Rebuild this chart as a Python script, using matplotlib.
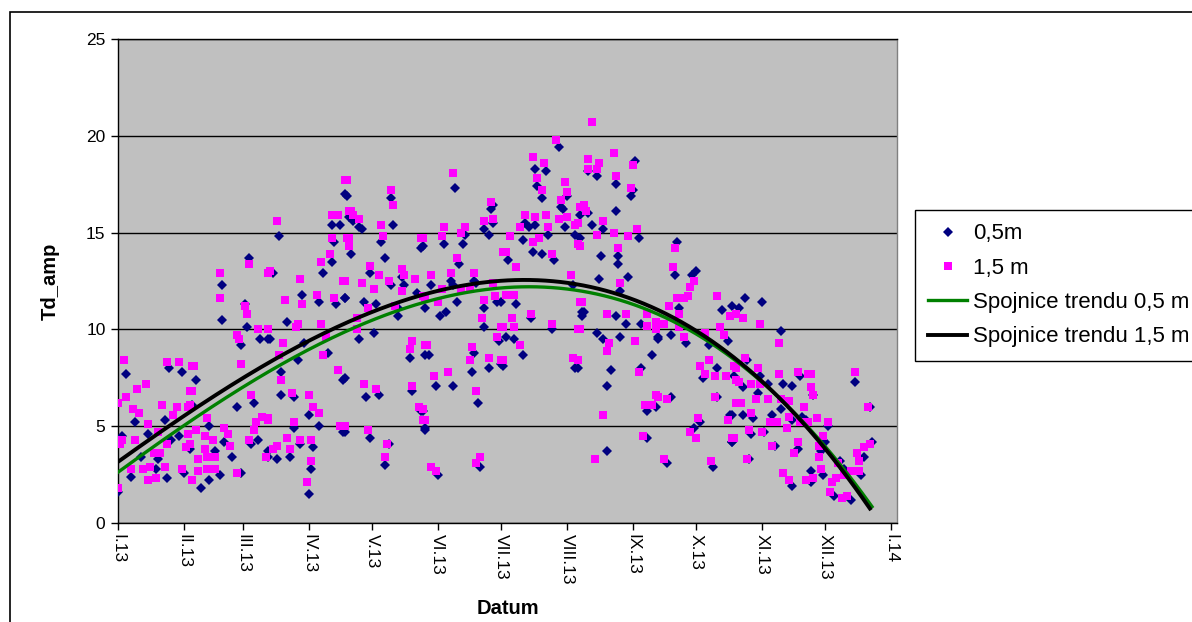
import numpy as np
import matplotlib
matplotlib.use("Agg")
import matplotlib.pyplot as plt
from matplotlib.patches import Rectangle

plt.rcParams['font.family'] = ['Liberation Sans', 'DejaVu Sans']

# Day of year (0 = 1.1.2013) and daily temperature amplitude, depth 0,5 m
days_05 = [4, 24, 30, 8, 22, 14, 25, 29, 19, 6, 23, 18, 0, 31, 11, 2,
           62, 49, 49, 60, 61, 58, 67, 71, 37, 56, 64, 35, 43, 50, 54, 46, 63, 66, 71, 43, 48, 39, 58, 34,
           107, 76, 102, 105, 101, 97, 73, 87, 95, 107, 103, 80, 72, 88, 85, 99, 77, 77, 83, 106, 90, 95,
           106, 83, 86, 92, 81, 75, 71, 91, 90,
           108, 130, 115, 110, 143, 126, 129, 135, 107, 116, 122, 141, 132, 114, 121, 138, 145, 117, 123,
           139, 107, 143, 145, 107, 119, 128, 126, 132,
           159, 177, 175, 177, 154, 163, 144, 161, 148, 158, 169, 152, 155, 160, 145, 173, 179, 173, 180,
           147, 168, 175, 167, 181, 150, 158, 170, 144, 145, 151, 171,
           208, 197, 202, 212, 210, 191, 194, 196, 200, 206, 216, 184, 211, 215, 188, 181, 219, 195, 205,
           187, 183, 191, 182, 216,
           244, 222, 243, 222, 235, 224, 218, 246, 228, 236, 241, 227, 237, 220, 235, 240, 247, 219, 226,
           229, 237, 252, 255, 247, 233, 217, 231, 250, 250, 231,
           264, 263, 273, 271, 265, 285, 290, 261, 255, 268, 279, 288, 283, 276, 291, 283, 289, 254, 261,
           275, 272, 290, 259, 281,
           296, 304, 293, 313, 297, 303, 314, 322, 318, 302, 295, 307, 309, 295, 290, 313, 300, 318, 323,
           325, 299, 305, 290, 321, 310, 298, 318, 327,
           348, 328, 355, 335, 334, 332, 356, 352, 341, 333, 351, 343, 338, 346, 327,
           # days sitting just under the 1,5 m squares
           129, 124, 111, 114, 119, 134, 101, 109, 176, 173, 164, 157, 168,
           198, 200, 209, 218, 192, 197, 203, 226, 235, 242, 229, 236]
td_05 = [7.7, 8.0, 7.8, 5.2, 5.3, 4.6, 4.3, 4.5, 3.3, 2.4, 2.3, 2.8, 1.6, 2.6, 3.4, 4.5,
         13.7, 12.3, 10.5, 11.3, 10.1, 9.2, 9.5, 9.5, 7.4, 6.0, 6.2, 6.1, 5.0, 4.2, 3.4, 3.7, 4.1, 4.3, 3.7,
         2.2, 2.5, 1.8, 2.6, 3.8,
         17.0, 14.8, 14.5, 15.4, 13.5, 12.9, 12.9, 11.8, 11.4, 11.6, 11.3, 10.4, 9.5, 9.3, 8.4, 8.8, 7.8,
         6.6, 6.5, 7.4, 5.6, 5.0, 4.7, 4.9, 4.1, 3.9, 3.4, 3.3, 3.4, 2.8, 1.5,
         16.9, 15.4, 15.2, 13.9, 14.2, 13.7, 12.3, 12.3, 11.6, 11.4, 11.3, 11.9, 10.7, 9.5, 9.8, 8.5, 8.7,
         6.5, 6.6, 6.8, 7.5, 5.8, 4.9, 4.7, 4.4, 4.1, 3.0, 11.1,
         17.3, 16.4, 14.9, 15.5, 14.4, 14.4, 14.3, 13.4, 12.3, 12.3, 12.4, 10.7, 10.9, 11.4, 11.1, 11.1,
         11.4, 10.1, 9.4, 8.7, 8.8, 8.0, 7.8, 8.2, 7.1, 7.1, 6.2, 5.8, 4.8, 2.5, 2.9,
         19.4, 18.3, 18.2, 16.9, 16.2, 14.6, 15.3, 14.0, 13.9, 13.6, 14.9, 13.6, 15.3, 12.3, 11.3, 11.4,
         10.9, 10.6, 10.0, 9.5, 9.6, 8.7, 8.1, 8.0,
         18.7, 18.2, 17.2, 16.0, 16.1, 15.4, 14.7, 14.7, 13.8, 13.4, 12.7, 12.6, 12.0, 10.9, 10.7, 10.3,
         10.3, 10.7, 9.8, 9.5, 9.6, 8.7, 9.5, 8.0, 7.9, 8.0, 7.1, 5.8, 4.4, 3.7,
         14.5, 12.8, 13.0, 12.8, 11.1, 11.0, 11.2, 9.7, 9.6, 9.3, 9.2, 9.4, 8.0, 7.5, 7.6, 6.5, 5.6, 6.0,
         6.5, 5.2, 4.9, 4.2, 3.1, 2.9,
         11.6, 11.4, 11.1, 9.9, 8.4, 7.6, 7.2, 7.6, 7.1, 6.7, 7.0, 7.2, 5.6, 5.6, 5.6, 5.9, 5.4, 5.3, 5.5,
         5.3, 4.6, 4.7, 4.2, 3.8, 4.0, 3.3, 1.9, 2.7,
         7.3, 6.6, 6.0, 5.0, 4.2, 3.7, 4.2, 3.4, 3.2, 2.5, 2.5, 2.8, 1.4, 1.2, 2.1,
         16.8, 14.5, 15.6, 15.3, 12.9, 12.7, 15.4, 15.8, 16.2, 15.2, 14.9, 12.5, 12.5,
         17.4, 16.8, 16.3, 15.9, 15.5, 15.4, 14.9, 17.9, 17.5, 16.9, 15.2, 13.8]

# Depth 1,5 m
days_15 = [3, 0, 9, 13, 4, 7, 10, 21, 23, 29, 35, 28, 26, 33, 34, 14, 19, 2, 1, 8, 17, 20, 23, 32, 33,
           6, 12, 15, 14, 18, 22, 30, 0, 35,
           48, 48, 62, 60, 61, 71, 56, 57, 66, 71, 36, 58, 35, 63, 34, 42, 50, 52, 53, 65, 68, 71, 64, 62,
           37, 41, 45, 41, 38, 42, 46, 42, 46, 38, 56, 70, 34,
           107, 75, 101, 104, 109, 101, 108, 100, 96, 109, 72, 86, 106, 79, 87, 94, 102, 71, 85, 84, 96,
           78, 76, 98, 97, 77, 104, 82, 90, 92, 95, 71, 83, 105, 80, 86, 91, 73, 75, 81, 91, 89,
           108, 129, 130, 110, 111, 114, 124, 125, 109, 109, 143, 119, 123, 134, 135, 140, 115, 128, 121,
           134, 107, 145, 118, 131, 113, 113, 139, 138, 145, 116, 122, 139, 142, 144, 107, 118, 127, 126,
           158, 176, 173, 177, 154, 153, 164, 162, 144, 160, 182, 148, 157, 168, 177, 153, 162, 166, 144,
           151, 173, 178, 172, 181, 179, 146, 167, 166, 175, 181, 149, 156, 169, 144, 145, 148, 150, 169, 171,
           207, 196, 201, 198, 211, 212, 200, 209, 218, 192, 197, 202, 208, 212, 216, 190, 203, 185, 199,
           196, 217, 183, 205, 188, 214, 183, 187, 218, 195, 205, 186, 182, 187, 217, 190, 182, 215,
           224, 222, 227, 222, 226, 234, 243, 235, 242, 220, 221, 217, 229, 226, 234, 241, 245, 218, 236,
           237, 219, 231, 240, 250, 254, 218, 250, 232, 231, 244, 246, 217, 254, 249, 252, 229, 248, 225,
           263, 262, 272, 270, 269, 264, 267, 260, 283, 289, 265, 256, 258, 284, 286, 265, 267, 254, 277,
           279, 275, 277, 282, 287, 291, 292, 282, 255, 259, 292, 274, 288, 270, 273, 290, 258, 280,
           292, 295, 303, 312, 296, 292, 302, 321, 326, 312, 293, 299, 303, 327, 301, 307, 313, 317, 324,
           294, 299, 317, 308, 311, 322, 326, 316, 298, 304, 291, 321, 309, 319, 297, 314, 317, 325,
           348, 327, 328, 354, 330, 335, 333, 331, 331, 355, 352, 349, 350, 332, 328, 340, 346, 350, 343,
           337, 336, 342, 344, 339]
td_15 = [8.4, 6.2, 6.9, 7.2, 6.5, 5.9, 5.7, 6.1, 8.3, 8.3, 8.1, 6.0, 5.6, 6.0, 6.8, 5.1, 4.7, 4.3, 4.1,
         4.3, 3.6, 3.6, 4.1, 3.9, 4.6, 2.8, 2.8, 2.9, 2.2, 2.3, 2.9, 2.8, 1.8, 2.2,
         12.9, 11.6, 13.4, 11.2, 10.8, 12.9, 9.7, 9.5, 10.0, 10.0, 8.1, 8.2, 6.8, 6.6, 6.1, 5.4, 4.9, 4.6,
         4.0, 5.2, 5.5, 5.4, 4.8, 4.3, 4.8, 4.5, 4.3, 3.8, 3.3, 3.4, 3.4, 2.8, 2.8, 2.7, 2.6, 3.4, 4.1,
         17.7, 15.6, 15.9, 15.9, 16.1, 14.7, 14.7, 13.9, 13.5, 14.3, 13.0, 12.6, 12.5, 11.5, 11.3, 11.8,
         11.6, 10.0, 10.3, 10.1, 10.3, 9.3, 8.7, 9.6, 8.7, 7.4, 7.9, 6.7, 6.6, 6.0, 5.7, 5.3, 5.2, 5.0,
         4.4, 4.3, 4.3, 3.8, 4.0, 3.8, 3.2, 2.1,
         17.7, 17.2, 16.4, 16.1, 15.9, 15.7, 15.4, 14.8, 14.7, 14.3, 14.7, 13.3, 12.8, 13.1, 12.8, 12.6,
         12.4, 12.5, 12.1, 12.0, 12.5, 11.6, 11.1, 11.2, 10.6, 10.0, 9.4, 9.0, 9.2, 7.2, 6.9, 7.1, 6.0,
         5.3, 5.0, 4.8, 4.1, 3.4,
         18.1, 16.6, 15.6, 15.7, 15.3, 14.8, 15.3, 15.0, 14.7, 13.7, 14.0, 12.8, 12.9, 12.9, 12.4, 12.1,
         12.1, 12.1, 11.7, 11.4, 11.5, 11.7, 10.6, 10.1, 9.6, 9.2, 9.1, 8.4, 8.5, 8.4, 7.6, 7.8, 6.8, 5.9,
         5.3, 2.9, 2.7, 3.1, 3.4,
         19.8, 18.9, 18.6, 17.8, 17.6, 17.1, 17.2, 16.7, 16.3, 15.9, 15.8, 15.9, 15.7, 15.8, 15.4, 15.3,
         15.3, 14.8, 14.7, 14.5, 14.4, 14.0, 13.9, 13.2, 12.8, 11.8, 11.8, 11.4, 10.8, 10.3, 10.6, 10.1,
         10.1, 10.0, 9.2, 8.4, 8.5,
         20.7, 18.8, 18.6, 18.3, 18.3, 19.1, 18.5, 17.9, 17.3, 16.4, 16.1, 15.5, 15.6, 14.9, 15.0, 14.8,
         15.2, 14.3, 14.2, 12.4, 11.4, 10.8, 10.8, 10.8, 10.4, 10.0, 10.2, 9.3, 8.9, 9.4, 7.8, 8.4, 6.6,
         6.1, 6.1, 5.6, 4.5, 3.3,
         14.2, 13.2, 12.5, 12.2, 11.7, 11.6, 11.6, 11.2, 11.7, 10.7, 10.8, 10.3, 10.3, 10.1, 9.7, 10.1,
         9.6, 10.0, 9.8, 8.4, 8.1, 7.7, 7.6, 7.6, 8.1, 7.4, 6.5, 6.5, 6.4, 6.2, 5.4, 5.3, 4.7, 4.4, 4.4,
         3.3, 3.2,
         10.8, 10.6, 10.3, 9.3, 8.5, 8.0, 8.0, 7.8, 7.7, 7.7, 7.3, 7.2, 7.2, 7.0, 6.4, 6.4, 6.4, 6.3, 6.0,
         6.2, 5.7, 5.5, 5.2, 5.2, 5.2, 5.2, 4.9, 4.8, 4.7, 4.4, 4.2, 4.0, 3.6, 3.3, 2.6, 2.2, 2.2,
         7.8, 7.7, 6.6, 6.0, 5.4, 5.2, 4.5, 4.0, 3.4, 4.1, 3.9, 3.6, 3.2, 2.8, 2.3, 3.1, 2.7, 2.7, 2.5,
         2.1, 1.6, 1.3, 1.4, 2.3]

month_starts = [0, 31, 59, 90, 120, 151, 181, 212, 243, 273, 304, 334, 365]
month_labels = ["I.13", "II.13", "III.13", "IV.13", "V.13", "VI.13", "VII.13",
                "VIII.13", "IX.13", "X.13", "XI.13", "XII.13", "I.14"]

W, H = 1192, 622
fig = plt.figure(figsize=(W / 100, H / 100), dpi=100)
fig.patch.set_facecolor('white')

# chart-area frame
fig.patches.append(Rectangle((10 / W, -0.1), 1.2, 1 - 12 / H + 0.1,
                             transform=fig.transFigure, fill=False,
                             edgecolor='black', linewidth=1.2, zorder=0))

ax = fig.add_axes([118 / W, 1 - 523 / H, (897 - 118) / W, (523 - 39) / H])
ax.set_facecolor('#C0C0C0')

ax.plot(days_05, td_05, linestyle='none', marker='D', markersize=5,
        color='#000080', markeredgewidth=0, label='0,5m', zorder=3)
ax.plot(days_15, td_15, linestyle='none', marker='s', markersize=6,
        color='#FF00FF', markeredgewidth=0, label='1,5 m', zorder=4)

# polynomial trend lines over the data range
def trend(d, v, deg=3):
    d = np.asarray(d, float)
    v = np.asarray(v, float)
    c = np.polyfit(d, v, deg)
    xs = np.linspace(0, d.max(), 300)
    return xs, np.polyval(c, xs)

x5, y5 = trend(days_05, td_05)
x15, y15 = trend(days_15, td_15)
ax.plot(x5, y5, color='#008000', linewidth=2.4, label='Spojnice trendu 0,5 m', zorder=5)
ax.plot(x15, y15, color='black', linewidth=2.8, label='Spojnice trendu 1,5 m', zorder=6)

ax.set_xlim(0, 367.8)
ax.set_ylim(0, 25)
ax.set_yticks([0, 5, 10, 15, 20, 25])
ax.yaxis.grid(True, color='black', linewidth=1)
ax.set_axisbelow(True)
ax.set_xticks(month_starts)
ax.set_xticklabels(month_labels, rotation=270, ha='center', va='top')
ax.tick_params(axis='both', direction='out', length=5, width=1, labelsize=12.5, colors='black')
ax.tick_params(axis='y', pad=4)
ax.tick_params(axis='x', pad=3)

for side in ['left', 'bottom', 'top']:
    ax.spines[side].set_color('black')
    ax.spines[side].set_linewidth(1)
ax.spines['right'].set_color('#808080')
ax.spines['right'].set_linewidth(1)

ax.set_ylabel('Td_amp', fontsize=14.5, fontweight='bold')
ax.yaxis.set_label_coords(-0.075, 0.5)
ax.set_xlabel('Datum', fontsize=14.5, fontweight='bold')
ax.xaxis.set_label_coords(0.50, -0.157)

leg = fig.legend(loc='upper left', bbox_to_anchor=(915 / W, 1 - 210 / H),
                 frameon=True, fancybox=False, shadow=False, fontsize=16,
                 handlelength=1.75, handletextpad=0.25, labelspacing=0.6,
                 borderpad=0.6, borderaxespad=0, framealpha=1)
leg.get_frame().set_edgecolor('black')
leg.get_frame().set_linewidth(1)

fig.savefig('out.png', dpi=100)
